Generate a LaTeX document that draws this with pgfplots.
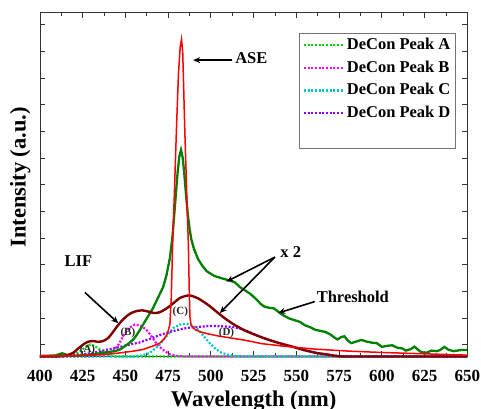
\documentclass[border=0pt]{standalone}
\usepackage{pgfplots}
\pgfplotsset{compat=1.18}
\usepackage{fontspec}
\setmainfont{Liberation Serif}
\usetikzlibrary{arrows.meta}

\definecolor{thrgreen}{RGB}{0,128,0}
\definecolor{lifred}{RGB}{128,0,0}
\definecolor{asered}{RGB}{255,0,0}
\definecolor{pkA}{RGB}{0,210,0}
\definecolor{pkB}{RGB}{255,0,255}
\definecolor{pkC}{RGB}{0,200,200}
\definecolor{pkD}{RGB}{140,0,255}

\tikzset{
  peak/.style={line width=2.2bp, dash pattern=on 2bp off 1.7bp},
  callout/.style={-{Stealth[length=7bp,width=6bp]}, line width=1.6bp, black},
  note/.style={font=\fontsize{16.5bp}{18bp}\selectfont\bfseries},
  tag/.style={font=\fontsize{11bp}{12bp}\selectfont\bfseries, text=black!85},
}

\begin{document}
\begin{tikzpicture}
\begin{axis}[
  scale only axis,
  width=427.7bp, height=344bp,
  xmin=400, xmax=650, ymin=0, ymax=12.9,
  enlargelimits=false, clip=false,
  axis line style={line width=0.9bp, black!80},
  xtick={400,425,...,650},
  minor x tick num=1,
  ytick={0.44,1.44,...,12.44},
  yticklabels={},
  tick align=inside,
  major tick length=5bp, minor tick length=3bp,
  tick style={line width=0.9bp, black!80},
  /pgf/number format/assume math mode=true,
  xticklabel style={font=\fontsize{17bp}{19bp}\selectfont\bfseries, anchor=base, yshift=-25.5bp},
  xlabel={Wavelength (nm)},
  ylabel={Intensity (a.u.)},
  xlabel style={font=\fontsize{22.5bp}{24bp}\selectfont\bfseries, at={(axis description cs:0.5,0)}, anchor=base, yshift=-50.5bp},
  ylabel style={font=\fontsize{22.5bp}{24bp}\selectfont\bfseries, at={(axis description cs:-0.0337,0.521)}, anchor=base},
  legend cell align=left,
  legend image code/.code={\draw[#1] (0bp,0bp) -- (40bp,0bp);},
  legend style={at={(axis description cs:0.9727,0.942)}, anchor=north east,
    draw=black!55, line width=0.7bp, inner sep=3bp,
    font=\fontsize{16.5bp}{18bp}\selectfont\bfseries,
    nodes={inner sep=2bp, text height=11.5bp, text depth=3bp},
    row sep=4.2bp},
]

% deconvolved components of the LIF band
\addplot[pkA, peak] coordinates {
(400,0)(415,0)(418,0.03)(421,0.1)(424,0.22)(427,0.37)(429.5,0.45)(432,0.4)
(435,0.26)(438,0.12)(441,0.04)(445,0)(500,0)(575,0)(650,0)};
\addlegendentry{DeCon Peak A}

\addplot[pkB, peak] coordinates {
(400,0)(430,0)(436,0.03)(440,0.1)(443,0.22)(446,0.45)(449,0.8)(452,1.07)
(455.5,1.2)(459,1.15)(462.3,1.0)(465,0.78)(467.2,0.57)(470,0.36)(473,0.2)
(476,0.08)(480,0.02)(485,0)(550,0)(650,0)};
\addlegendentry{DeCon Peak B}

\addplot[pkC, peak] coordinates {
(400,0)(455,0)(460,0.04)(464.3,0.14)(467,0.28)(470,0.45)(474,0.76)(478,1.07)
(482,1.2)(485.7,1.23)(489,1.16)(492.5,1.01)(495,0.82)(497.4,0.64)(500,0.45)
(503.2,0.26)(506,0.15)(509,0.08)(514,0.02)(520,0)(580,0)(650,0)};
\addlegendentry{DeCon Peak C}

\addplot[pkD, peak] coordinates {
(400,0)(410,0.01)(415,0.03)(425,0.08)(432,0.15)(439,0.25)(445,0.33)
(450.6,0.42)(458,0.52)(465,0.68)(470,0.8)(476,0.92)(482,1.02)(487,1.08)
(492.5,1.11)(498,1.14)(503,1.14)(508,1.13)(513,1.1)(518,1.03)(522,0.93)
(528,0.76)(534,0.62)(540,0.5)(548,0.36)(555,0.23)(562,0.13)(568,0.07)
(575,0.02)(580,0)(620,0)(650,0)};
\addlegendentry{DeCon Peak D}

\addlegendimage{empty legend}
\addlegendentry{}

% spectrum at threshold (x 2)
\addplot[thrgreen, line width=2.3bp, forget plot] coordinates {
(400,0.03)(405,0.03)(409,0.04)(411,0.08)(413,0.12)(415,0.07)(418,0.03)(422,0.03)
(426,0.05)(430,0.08)(435,0.12)(440,0.17)(444,0.2)(447,0.27)(450,0.4)(452.5,0.52)
(454.5,0.63)(456.5,0.8)(458.5,1.0)(462,1.38)(466,1.8)(469,2.2)(472,2.6)(474,3.05)
(476,3.7)(477.5,4.5)(478.5,5.3)(479.5,6.1)(480.5,6.9)(481.5,7.5)(482.5,7.75)
(483.5,7.45)(484.5,6.8)(485.5,6.0)(486.5,5.3)(487.5,4.8)(488.5,4.4)(490,4.05)
(492.5,3.65)(495,3.4)(497.5,3.2)(502,3.02)(507,2.92)(511,2.85)(514,2.78)(517,2.6)
(520,2.48)(523,2.35)(526.5,2.15)(529,1.98)(531,1.88)(533,1.84)(535,1.82)(537,1.8)
(539,1.7)(541,1.6)(543,1.52)(546,1.42)(549,1.36)(552,1.3)(555,1.17)(558,1.1)
(561,1.0)(564,0.96)(567,0.92)(570,0.82)(572,0.72)(574,0.64)(576,0.72)(578,0.76)
(580,0.6)(582,0.5)(585,0.56)(588,0.62)(591,0.56)(594,0.52)(597,0.5)(600,0.36)
(603,0.4)(606,0.42)(609,0.33)(612,0.3)(614,0.22)(617,0.28)(619,0.37)(621,0.26)
(623,0.16)(626,0.14)(629,0.22)(632,0.2)(634,0.24)(636.5,0.36)(639,0.25)(642,0.2)
(646,0.24)(650,0.24)};

% LIF spectrum (x 2)
\addplot[lifred, line width=2.4bp, smooth, tension=0.4, forget plot] coordinates {
(400,0)(413,0.01)(416,0.05)(419.5,0.14)(422,0.28)(425.3,0.45)(428,0.55)(431,0.58)
(434,0.55)(437,0.58)(440,0.7)(442.5,0.9)(445,1.12)(448,1.35)(451,1.53)(454,1.65)
(457,1.71)(460,1.73)(463,1.69)(467,1.63)(470,1.66)(474,1.8)(478,2.0)(482,2.2)
(486.5,2.29)(489,2.27)(492.5,2.18)(496,2.04)(499.3,1.89)(504,1.64)(509,1.39)
(514,1.18)(520,0.97)(528,0.76)(534,0.62)(540,0.5)(548,0.36)(555,0.23)(562,0.13)
(567.5,0.08)(572,0.03)(577,0.0)(600,0)(625,0)(650,0)};

% ASE spectrum
\addplot[asered, line width=1.5bp, forget plot] coordinates {
(400,0.02)(420,0.03)(435,0.06)(445,0.12)(454.5,0.2)(460,0.26)(466,0.39)(470,0.5)
(472.5,0.65)(474.5,0.85)(476,1.2)(476.8,2.2)(477.5,4.0)(478.7,6.3)(479.8,8.5)
(481,10.6)(482,11.6)(482.8,11.9)(483.5,11.4)(484.7,8.5)(485.8,6.2)(486.8,4.2)
(487.3,2.5)(487.7,1.5)(488.3,1.2)(489.5,1.08)(491,1.0)(494,0.92)(497.5,0.86)
(505,0.76)(517,0.64)(523,0.57)(530,0.48)(542,0.39)(560,0.28)(581,0.2)(600,0.15)
(620,0.11)(650,0.05)};

% annotations
\node[note] at (axis cs:523.6,11.2) {ASE};
\draw[callout] (axis cs:512.2,11.12) -- (axis cs:489.6,11.12);
\node[note] at (axis cs:422.5,3.59) {LIF};
\draw[callout] (axis cs:426.3,2.4) -- (axis cs:445.8,1.25);
\node[note] at (axis cs:546.7,3.93) {x 2};
\draw[callout] (axis cs:537.4,3.73) -- (axis cs:509.1,2.81);
\draw[callout] (axis cs:537.4,3.73) -- (axis cs:505.2,1.63);
\node[note] at (axis cs:583,2.24) {Threshold};
\draw[callout] (axis cs:560.7,2.06) -- (axis cs:539.3,1.63);
\node[tag] at (axis cs:427.8,0.25) {(A)};
\node[tag] at (axis cs:451.4,0.88) {(B)};
\node[tag] at (axis cs:482.1,1.69) {(C)};
\node[tag] at (axis cs:509.1,0.88) {(D)};
\end{axis}
\pgfresetboundingbox
\path[use as bounding box] (-40bp,-52.3bp) rectangle (441.3bp,356.7bp);
\end{tikzpicture}
\end{document}
